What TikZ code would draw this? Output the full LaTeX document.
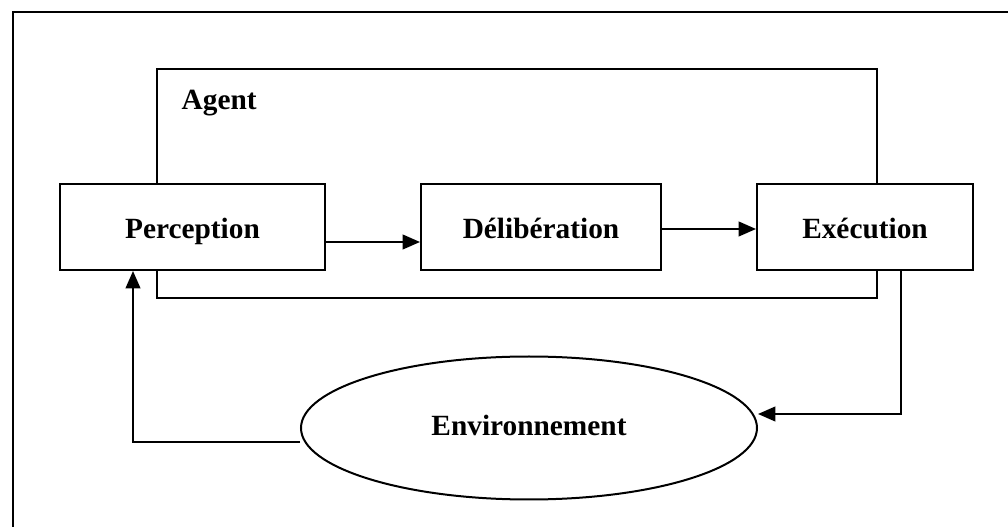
\documentclass[tikz,border=0pt]{standalone}
\usepackage{fontspec}
\setmainfont{Liberation Serif}
\usetikzlibrary{shapes.geometric,arrows.meta}
\begin{document}
\begin{tikzpicture}[x=0.75pt,y=-0.75pt,
  every node/.style={font=\fontsize{22}{26}\selectfont\bfseries},
  frame/.style={draw,line width=1.5pt},
  stage/.style={frame,rectangle,fill=white,minimum height=64.5pt,inner sep=0pt,
    text height=17pt,text depth=-5.5pt},
  arr/.style={line width=1.5pt,-{Triangle[length=13pt,width=11pt]}}]
  \useasboundingbox (0,0) rectangle (1008,527);
  % outer frame (runs off the page on the right and at the bottom)
  \draw[line width=1.5pt] (13,540) -- (13,12) -- (1020,12);
  % agent enclosure
  \node[frame,rectangle,minimum width=540pt,minimum height=171.75pt,inner sep=0pt] (agent) at (517,183.5) {};
  \node[anchor=base west] (agentlbl) at (177,110) {Agent};
  % stages
  \node[stage,minimum width=198.75pt] (perc) at (192.5,227) {Perception};
  \node[stage,minimum width=180pt] (delib) at (541,227) {Délibération};
  \node[stage,minimum width=162pt] (exec) at (865,227) {Exécution};
  % environment
  \node[frame,ellipse,minimum width=342pt,minimum height=107.25pt,inner sep=0pt,fill=white,
    text height=12pt,text depth=-3pt] (env) at (529,428) {Environnement};
  % connectors
  \draw[arr] (perc.east |- 0,242) -- (delib.west |- 0,242);
  \draw[arr] (delib.east |- 0,229) -- (exec.west |- 0,229);
  \draw[arr] (exec.south -| 901,0) -- (901,414) -- (env.east |- 0,414);
  \draw[arr] (env.west |- 0,442) -- (133,442) -- (perc.south -| 133,0);
\end{tikzpicture}
\end{document}
